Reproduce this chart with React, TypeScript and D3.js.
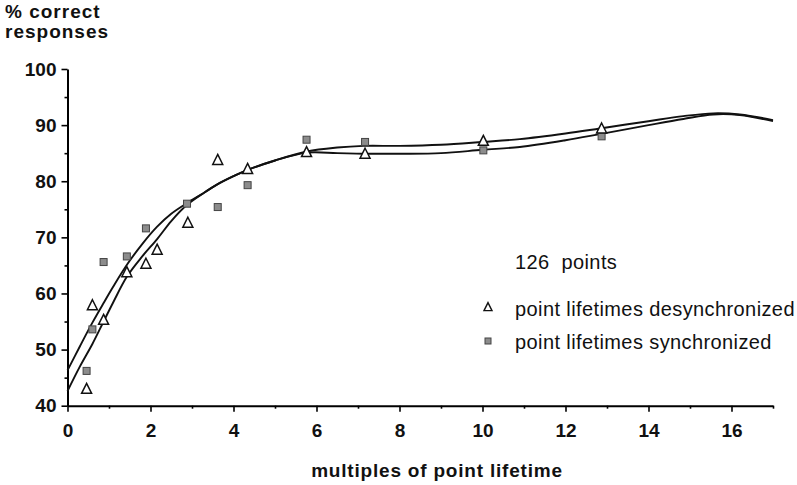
import React, { useRef, useEffect } from "react";
import * as d3 from "d3";

// measured points
const desyncX = [0.46, 0.6, 0.87, 1.43, 1.89, 2.16, 2.9, 3.62, 4.34, 5.76, 7.17, 10.02, 12.87];
const desyncY = [43.0, 57.9, 55.3, 63.8, 65.3, 67.8, 72.6, 83.8, 82.2, 85.2, 84.9, 87.2, 89.4];
const syncX = [0.46, 0.6, 0.87, 1.43, 1.89, 2.88, 3.62, 4.34, 5.76, 7.17, 10.02, 12.87];
const syncY = [46.2, 53.6, 65.6, 66.6, 71.6, 76.0, 75.4, 79.3, 87.4, 87.0, 85.5, 88.0];

// the two fitted curves
const fitX = [0, 0.3, 0.6, 0.87, 1.1, 1.44, 1.8, 2.16, 2.5, 2.88, 3.3, 3.6, 4.0, 4.33, 5.0, 5.77, 6.5, 7.13, 8.0, 9.0, 10.0, 10.9, 12.0, 12.83, 14.0, 14.84, 15.56, 16.2, 17];
const fitA = [46.3, 50.6, 54.8, 58.3, 61.2, 65.2, 68.8, 71.9, 74.2, 76.1, 78.0, 79.4, 80.9, 82.0, 83.7, 85.3, 86.0, 86.3, 86.3, 86.5, 87.0, 87.5, 88.5, 89.4, 90.7, 91.6, 92.1, 91.9, 90.9];
const fitB = [42.6, 47.0, 51.0, 55.0, 58.4, 63.1, 66.6, 69.7, 72.9, 75.8, 78.0, 79.4, 80.9, 82.0, 83.7, 85.1, 85.0, 84.9, 84.9, 85.0, 85.6, 86.1, 87.3, 88.4, 90.0, 91.1, 91.9, 91.8, 90.7];

const xMajor = [0, 2, 4, 6, 8, 10, 12, 14, 16];
const xMinor = [1, 3, 5, 7, 9, 11, 13, 15, 17];
const yMajor = [40, 50, 60, 70, 80, 90, 100];
const yMinor = [45, 55, 65, 75, 85, 95];

const yTitle = ["% correct", "responses"];
const xTitle = "multiples of point lifetime";
const legendNote = "126  points";
const legendLabels = ["point lifetimes desynchronized", "point lifetimes synchronized"];

const W = 797;
const H = 485;
const FONT = "'Liberation Sans', Arial, Helvetica, sans-serif";

export default function App() {
  const ref = useRef<SVGSVGElement>(null);

  useEffect(() => {
    const svg = d3.select(ref.current);
    svg.selectAll("*").remove();

    const x = d3.scaleLinear().domain([0, 17]).range([67.5, 773]);
    const y = d3.scaleLinear().domain([40, 100]).range([405.7, 69]);

    // x axis
    const gx = svg.append("g").attr("transform", `translate(0,${y(40)})`);
    gx.call(
      d3.axisBottom(x).tickValues(xMajor).tickSize(6).tickSizeOuter(0).tickPadding(12)
    );
    gx.call(g => g.append("g").call(
      d3.axisBottom(x).tickValues(xMinor).tickSize(3).tickSizeOuter(0).tickFormat(() => "")
    ).select(".domain").remove());

    // y axis
    const gy = svg.append("g").attr("transform", `translate(${x(0)},0)`);
    gy.call(
      d3.axisLeft(y).tickValues(yMajor).tickSize(6).tickSizeOuter(0).tickPadding(5)
    );
    gy.call(g => g.append("g").call(
      d3.axisLeft(y).tickValues(yMinor).tickSize(3).tickSizeOuter(0).tickFormat(() => "")
    ).select(".domain").remove());

    svg.selectAll(".domain").attr("stroke", "#000").attr("stroke-width", 2);
    svg.selectAll(".tick line").attr("stroke", "#000").attr("stroke-width", 1.6);
    svg.selectAll(".tick text")
      .attr("fill", "#111")
      .attr("font-family", FONT)
      .attr("font-size", 19)
      .attr("font-weight", "bold");

    // fitted curves
    const line = d3.line<number>()
      .x((d, i) => x(fitX[i]))
      .y(d => y(d))
      .curve(d3.curveCatmullRom.alpha(0.5));
    [fitA, fitB].forEach(arr => {
      svg.append("path")
        .attr("d", line(arr))
        .attr("fill", "none")
        .attr("stroke", "#111")
        .attr("stroke-width", 1.9);
    });

    const tri = (cx: number, cy: number, s: number) =>
      `M${cx},${cy - s * 0.55}L${cx + s / 2},${cy + s * 0.45}L${cx - s / 2},${cy + s * 0.45}Z`;

    // synchronized (squares)
    svg.append("g").selectAll("rect")
      .data(syncY)
      .join("rect")
      .attr("x", (d, i) => x(syncX[i]) - 3.5)
      .attr("y", d => y(d) - 3.5)
      .attr("width", 7)
      .attr("height", 7)
      .attr("fill", "#8c8c8c")
      .attr("stroke", "#444")
      .attr("stroke-width", 1);

    // desynchronized (triangles)
    svg.append("g").selectAll("path")
      .data(desyncY)
      .join("path")
      .attr("d", (d, i) => tri(x(desyncX[i]), y(d), 10))
      .attr("fill", "#fff")
      .attr("stroke", "#111")
      .attr("stroke-width", 1.5);

    // titles
    svg.append("g").selectAll("text")
      .data(yTitle)
      .join("text")
      .attr("x", 5)
      .attr("y", (d, i) => 18 + i * 20)
      .attr("font-family", FONT)
      .attr("font-size", 19)
      .attr("font-weight", "bold")
      .attr("letter-spacing", 1)
      .attr("fill", "#111")
      .text(d => d);

    svg.append("text")
      .attr("x", 437)
      .attr("y", 477)
      .attr("text-anchor", "middle")
      .attr("font-family", FONT)
      .attr("font-size", 19)
      .attr("font-weight", "bold")
      .attr("letter-spacing", 0.8)
      .attr("fill", "#111")
      .text(xTitle);

    // legend
    svg.append("text")
      .attr("x", 515)
      .attr("y", 269)
      .attr("font-family", FONT)
      .attr("font-size", 20)
      .attr("letter-spacing", 0.4)
      .attr("fill", "#111")
      .style("white-space", "pre")
      .text(legendNote);

    const lg = svg.append("g");
    lg.append("path")
      .attr("d", tri(488, 307, 8))
      .attr("fill", "#fff")
      .attr("stroke", "#111")
      .attr("stroke-width", 1.4);
    lg.append("rect")
      .attr("x", 485)
      .attr("y", 338)
      .attr("width", 6)
      .attr("height", 6)
      .attr("fill", "#8c8c8c")
      .attr("stroke", "#444")
      .attr("stroke-width", 1);
    lg.selectAll("text")
      .data(legendLabels)
      .join("text")
      .attr("x", 515)
      .attr("y", (d, i) => 316 + i * 33)
      .attr("font-family", FONT)
      .attr("font-size", 20)
      .attr("letter-spacing", 0.4)
      .attr("fill", "#111")
      .text(d => d);
  }, []);

  return (
    <svg
      ref={ref}
      width={W}
      height={H}
      style={{ position: "absolute", left: 0, top: 0, background: "#fff" }}
    />
  );
}
